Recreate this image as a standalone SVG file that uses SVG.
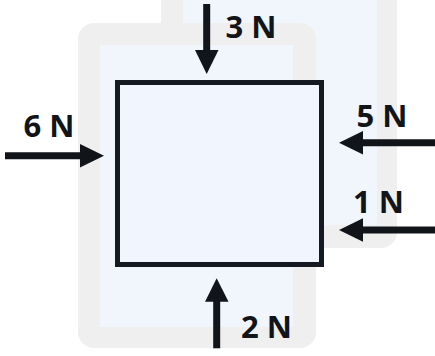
<svg xmlns="http://www.w3.org/2000/svg" width="435" height="356" viewBox="0 0 435 356">
<defs>
<style>
.lbl{font-family:"Open Sans","Noto Sans","DejaVu Sans",sans-serif;font-weight:700;font-size:31px;fill:#111418}
.shaft{stroke:#111418;stroke-width:7;fill:none}
.head{fill:#111418}
.wm{fill:#efefef}
.scr{fill:#f1f5fc}
</style>
</defs>
<rect width="435" height="356" fill="#ffffff"/>
<g id="watermark">
<rect class="wm" x="161" y="-30" width="236" height="278" rx="16"/>
<rect class="scr" x="183" y="-30" width="194" height="255"/>
<rect class="wm" x="78" y="23" width="238" height="325" rx="16"/>
<rect class="scr" x="100" y="45" width="193" height="282"/>
</g>
<g id="box">
<rect x="117.5" y="82.5" width="204" height="182" fill="#f1f5fd" stroke="#151a22" stroke-width="5"/>
</g>
<g id="connectors">
<line class="shaft" x1="206.7" y1="4" x2="206.7" y2="52"/>
<polygon class="head" points="195,50 218.5,50 206.7,74"/>
<line class="shaft" x1="5" y1="155.7" x2="82" y2="155.7"/>
<polygon class="head" points="80,144 80,167.5 104,155.7"/>
<line class="shaft" x1="435" y1="142.7" x2="361" y2="142.7"/>
<polygon class="head" points="363,131 363,154.5 339,142.7"/>
<line class="shaft" x1="435" y1="230" x2="361" y2="230"/>
<polygon class="head" points="363,218.3 363,241.7 339,230"/>
<line class="shaft" x1="216.7" y1="348.3" x2="216.7" y2="300"/>
<polygon class="head" points="205,301.7 228.5,301.7 216.7,278.3"/>
</g>
<g id="labels">
<text class="lbl" x="225.5" y="37.5">3 N</text>
<text class="lbl" x="23.5" y="137">6 N</text>
<text class="lbl" x="356.5" y="127.3">5 N</text>
<text class="lbl" x="353" y="213.3">1 N</text>
<text class="lbl" x="241" y="338.3">2 N</text>
</g>
</svg>
